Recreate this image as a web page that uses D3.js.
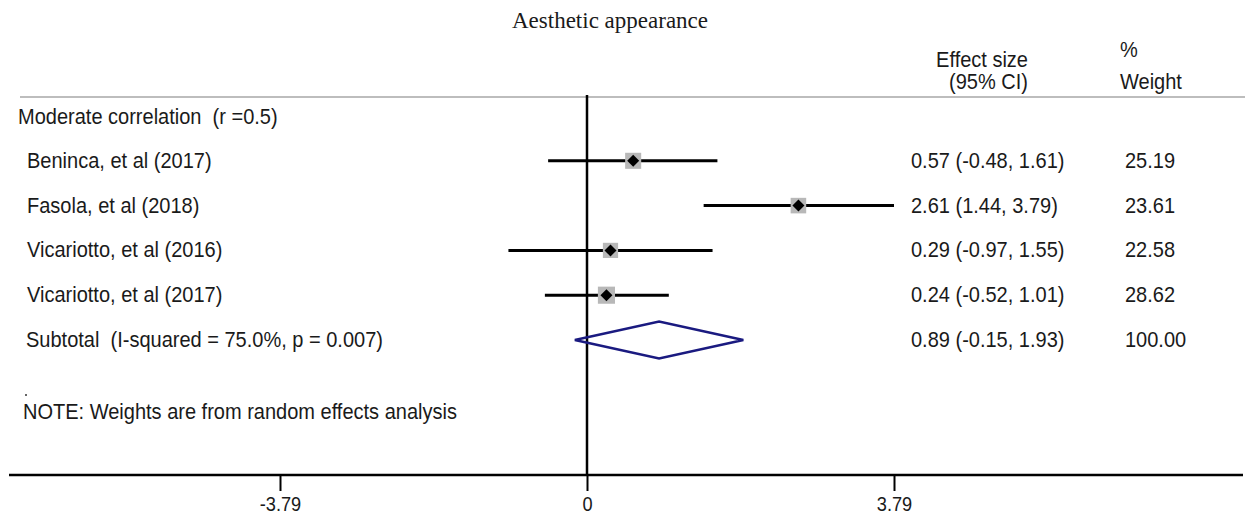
<!DOCTYPE html>
<html>
<head>
<meta charset="utf-8">
<script src="https://cdn.jsdelivr.net/npm/d3@7"></script>
<style>
  body { margin: 0; background: #fff; }
  text { font-family: "Liberation Sans", Arial, sans-serif; fill: #1a1a1a; white-space: pre; }
</style>
</head>
<body>
<svg id="plotCanvas" width="1245" height="518"></svg>
<script>
// study rows
var studies = ["Beninca, et al (2017)", "Fasola, et al (2018)", "Vicariotto, et al (2016)", "Vicariotto, et al (2017)"];
var effects = [0.57, 2.61, 0.29, 0.24];
var lower = [-0.48, 1.44, -0.97, -0.52];
var upper = [1.61, 3.79, 1.55, 1.01];
var weights = ["25.19", "23.61", "22.58", "28.62"];
var ciLabels = ["0.57 (-0.48, 1.61)", "2.61 (1.44, 3.79)", "0.29 (-0.97, 1.55)", "0.24 (-0.52, 1.01)"];

// pooled estimate
var subtotalLabel = "Subtotal  (I-squared = 75.0%, p = 0.007)";
var subtotal = [0.89, -0.15, 1.93];
var subtotalCI = "0.89 (-0.15, 1.93)";
var subtotalWeight = "100.00";

var tickValues = [-3.79, 0, 3.79];
var tickLabels = ["-3.79", "0", "3.79"];

var canvas = d3.select("#plotCanvas");

// x scale: 0 sits at 587
var x = d3.scaleLinear().domain([-3.79, 3.79]).range([280, 894]);

// row positions
var rowY = d3.scalePoint()
    .domain(["head"].concat(studies).concat(["sub"]))
    .range([116, 340]);

// text in the picture is a bit narrow, so squeeze it horizontally
function addText(px, py, str, anchor)
{
   return canvas.append("text")
      .attr("transform", "translate(" + px + "," + py + ") scale(0.91,1)")
      .attr("text-anchor", anchor || "start")
      .style("font-size", "22px")
      .text(str);
}

// title
canvas.append("text")
    .attr("x", 610)
    .attr("y", 28)
    .attr("text-anchor", "middle")
    .style("font-family", "'Liberation Serif', 'Times New Roman', serif")
    .style("font-size", "23px")
    .text("Aesthetic appearance");

// column headers
addText(1028, 67, "Effect size", "end");
addText(1028, 89, "(95% CI)", "end");
addText(1120, 57, "%");
addText(1120, 89, "Weight");

// header rule
canvas.append("line")
    .attr("x1", 20).attr("x2", 1245)
    .attr("y1", 97).attr("y2", 97)
    .attr("stroke", "#bdbdbd")
    .attr("stroke-width", 2);

// no-effect line
canvas.append("line")
    .attr("x1", x(0)).attr("x2", x(0))
    .attr("y1", 95).attr("y2", 475)
    .attr("stroke", "#000")
    .attr("stroke-width", 2.5);

// group heading
addText(18, rowY("head") + 8, "Moderate correlation  (r =0.5)");

studies.forEach(function(s, i) {
    var y = rowY(s);
    addText(27, y + 7, s);
    addText(911, y + 7, ciLabels[i]);
    addText(1125, y + 7, weights[i]);

    // CI line
    canvas.append("line")
        .attr("x1", x(lower[i])).attr("x2", x(upper[i]))
        .attr("y1", y).attr("y2", y)
        .attr("stroke", "#000")
        .attr("stroke-width", 3);

    // weight box, sized by weight
    var side = 16 * Math.sqrt(+weights[i] / 25);
    canvas.append("rect")
        .attr("x", x(effects[i]) - side / 2)
        .attr("y", y - side / 2)
        .attr("width", side)
        .attr("height", side)
        .attr("fill", "#b8b8b8");

    // point estimate
    var d = 6;
    var cx = x(effects[i]);
    canvas.append("path")
        .attr("d", "M" + (cx - d) + "," + y + " L" + cx + "," + (y - d) +
            " L" + (cx + d) + "," + y + " L" + cx + "," + (y + d) + " Z")
        .attr("fill", "#000");
});

// subtotal row
var sy = rowY("sub");
addText(26, sy + 7, subtotalLabel);
addText(911, sy + 7, subtotalCI);
addText(1125, sy + 7, subtotalWeight);

var dh = 18.5;
canvas.append("path")
    .attr("d", "M" + x(subtotal[1]) + "," + sy + " L" + x(subtotal[0]) + "," + (sy - dh) +
        " L" + x(subtotal[2]) + "," + sy + " L" + x(subtotal[0]) + "," + (sy + dh) + " Z")
    .attr("fill", "none")
    .attr("stroke", "#1a1a80")
    .attr("stroke-width", 2.5);

// note
canvas.append("circle").attr("cx", 26).attr("cy", 395).attr("r", 1).attr("fill", "#333");
addText(23, 419, "NOTE: Weights are from random effects analysis");

// x axis
var axis = d3.axisBottom(x)
    .tickValues(tickValues)
    .tickFormat(function(d, i) { return tickLabels[i]; })
    .tickSize(16)
    .tickSizeOuter(0)
    .tickPadding(6);

var gAxis = canvas.append("g")
    .attr("transform", "translate(0,475)")
    .call(axis);

gAxis.select(".domain").remove();
gAxis.append("line")
    .attr("x1", 9).attr("x2", 1243)
    .attr("y1", 0).attr("y2", 0)
    .attr("stroke", "#000")
    .attr("stroke-width", 2.5);
gAxis.selectAll(".tick line").attr("stroke", "#000").attr("stroke-width", 2);
gAxis.selectAll(".tick text")
    .attr("transform", "scale(0.91,1)")
    .style("font-family", "'Liberation Sans', Arial, sans-serif")
    .style("font-size", "20px")
    .attr("fill", "#1a1a1a");
</script>
</body>
</html>
